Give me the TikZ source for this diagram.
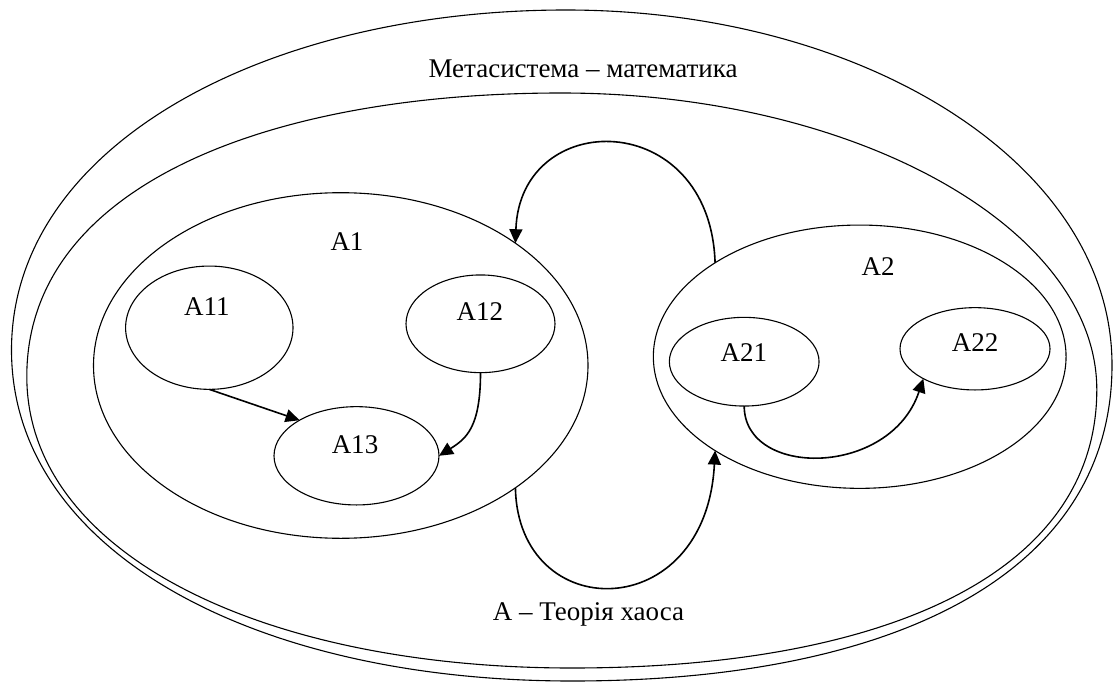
\documentclass[tikz,border=0pt]{standalone}
\usepackage{fontspec}
\setmainfont{Liberation Serif}
\usetikzlibrary{shapes.geometric,arrows.meta}
\begin{document}
\begin{tikzpicture}[x=1pt,y=-1pt,
  set/.style={draw, ellipse, inner sep=0pt, outer sep=0pt, line width=1.1pt},
  border/.style={line width=1.1pt},
  lbl/.style={anchor=base, inner sep=0pt, font=\fontsize{27}{32}\selectfont},
  link/.style={line width=1.6pt, -{Triangle[length=14pt,width=13pt]}}]
\useasboundingbox (0,0) rectangle (1113,682);
% metasystem (outer)
\draw[border] (566,10) .. controls (866,10) and (1112,165) .. (1112,365)
  .. controls (1112,575) and (892,681) .. (572,681)
  .. controls (252,681) and (11.5,550) .. (11.5,350)
  .. controls (11.5,145) and (266,10) .. cycle;
% system A (inner)
\draw[border] (561,93) .. controls (858,93) and (1096.8,229.6) .. (1096.8,389.6)
  .. controls (1096.8,574.6) and (882.9,668) .. (571.75,668)
  .. controls (260.6,668) and (26.8,552.6) .. (26.8,376.4)
  .. controls (26.8,186.4) and (267,93) .. cycle;
% subsystems
\node[set, minimum width=494.5pt, minimum height=345.6pt] (A1) at (340.75,365.5) {};
\node[set, minimum width=167.4pt, minimum height=123.3pt] (A11) at (209.3,327.7) {};
\node[set, minimum width=149pt, minimum height=97.7pt] (A12) at (480.5,323.8) {};
\node[set, minimum width=165pt, minimum height=98.3pt] (A13) at (356.5,455.8) {};
\node[set, minimum width=412.7pt, minimum height=263.3pt] (A2) at (859.7,356.7) {};
\node[set, minimum width=149.7pt, minimum height=88.7pt] (A21) at (744.2,361.7) {};
\node[set, minimum width=150pt, minimum height=82.3pt] (A22) at (975,348.8) {};
% labels
\node[lbl] (tmeta) at (583,78) {Метасистема – математика};
\node[lbl] (tA) at (588.5,620) {A – Теорія хаоса};
\node[lbl] (tA1) at (347,250.7) {A1};
\node[lbl] (tA11) at (206.8,315) {A11};
\node[lbl] (tA12) at (479.8,320) {A12};
\node[lbl] (tA13) at (355,453.3) {A13};
\node[lbl] (tA2) at (878,275) {A2};
\node[lbl] (tA21) at (743.8,361) {A21};
\node[lbl] (tA22) at (975,351.7) {A22};
% connectors
\draw[link] (A11.south) -- (A13.148);
\draw[link] (A12.south) .. controls +(0,55) and +(27,-17) .. (A13.east);
\draw[link] (A21.south) .. controls +(0,72) and +(-33,99) .. (A22.210);
\draw[link] (A2.147) .. controls (710,107) and (520,107) .. (A1.35);
\draw[link] (A1.-35) .. controls (518,626) and (706,626) .. (A2.213);
\end{tikzpicture}
\end{document}
